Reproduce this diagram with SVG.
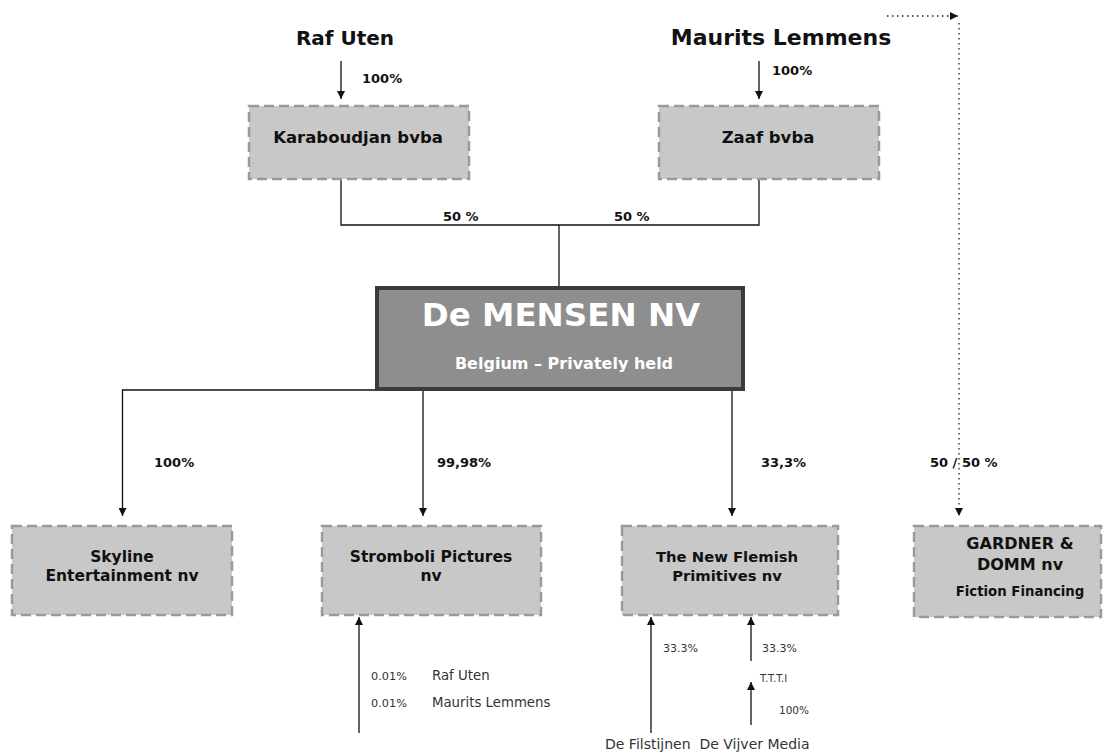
<svg xmlns="http://www.w3.org/2000/svg" width="1107" height="755" viewBox="0 0 1107 755">
<defs>
<style>
.t{font-family:"DejaVu Sans","Liberation Sans",sans-serif;fill:#111;text-anchor:middle}
.b{font-weight:bold}
.box{fill:#c8c8c8;stroke:#9a9a9a;stroke-width:2.5;stroke-dasharray:10 5}
.ln{fill:none;stroke:#111;stroke-width:1.3}
.dot{fill:none;stroke:#222;stroke-width:1.3;stroke-dasharray:1.5 3.5}
.pct{font-size:13px;font-weight:bold;text-anchor:start}
.sm{fill:#333;text-anchor:start}
.w{fill:#fff}
</style>
<marker id="arr" viewBox="0 0 10 10" refX="10" refY="5" markerWidth="8" markerHeight="8" markerUnits="userSpaceOnUse" orient="auto">
<path d="M0,0 L10,5 L0,10 z" fill="#111"/>
</marker>
</defs>
<rect width="1107" height="755" fill="#fff"/>

<g id="connectors">
<line class="ln" x1="341" y1="61" x2="341" y2="99" marker-end="url(#arr)"/>
<line class="ln" x1="759" y1="61" x2="759" y2="99" marker-end="url(#arr)"/>
<path class="ln" d="M341 179 V225 H759 V179"/>
<line class="ln" x1="559" y1="225" x2="559" y2="287"/>
<path class="ln" d="M376 390 H122.5 V516" marker-end="url(#arr)"/>
<line class="ln" x1="423" y1="390" x2="423" y2="516" marker-end="url(#arr)"/>
<line class="ln" x1="732" y1="390" x2="732" y2="516" marker-end="url(#arr)"/>
<line class="dot" x1="887" y1="16" x2="958" y2="16" marker-end="url(#arr)"/>
<line class="dot" x1="959" y1="23" x2="959" y2="516" marker-end="url(#arr)"/>
<line class="ln" x1="359" y1="733" x2="359" y2="617" marker-end="url(#arr)"/>
<line class="ln" x1="651" y1="733" x2="651" y2="617" marker-end="url(#arr)"/>
<line class="ln" x1="751" y1="661" x2="751" y2="617" marker-end="url(#arr)"/>
<line class="ln" x1="751" y1="725" x2="751" y2="682" marker-end="url(#arr)"/>
</g>

<g id="labels">
<text class="t pct" x="362" y="83">100%</text>
<text class="t pct" x="772" y="75">100%</text>
<text class="t pct" x="443" y="221">50 %</text>
<text class="t pct" x="614" y="221">50 %</text>
<text class="t pct" x="154" y="467">100%</text>
<text class="t pct" x="437" y="467">99,98%</text>
<text class="t pct" x="761" y="467">33,3%</text>
<text class="t pct" x="930" y="467">50 / 50 %</text>
<text class="t sm" x="371" y="680" font-size="11.3">0.01%</text>
<text class="t sm" x="432" y="680" font-size="13.3">Raf Uten</text>
<text class="t sm" x="371" y="707" font-size="11.3">0.01%</text>
<text class="t sm" x="432" y="707" font-size="13.3">Maurits Lemmens</text>
<text class="t sm" x="663" y="652" font-size="11">33.3%</text>
<text class="t sm" x="762" y="652" font-size="11">33.3%</text>
<text class="t sm" x="760" y="682" font-size="10">T.T.T.I</text>
<text class="t sm" x="779" y="714" font-size="10.5">100%</text>
<text class="t sm" x="605" y="749" font-size="14" xml:space="preserve">De Filstijnen  De Vijver Media</text>
</g>

<g id="raf-uten">
<text class="t b" x="345" y="45" font-size="20">Raf Uten</text>
</g>
<g id="maurits-lemmens">
<text class="t b" x="781" y="45" font-size="22">Maurits Lemmens</text>
</g>

<g id="karaboudjan">
<rect class="box" x="249" y="106" width="220" height="73"/>
<text class="t b" x="358" y="143" font-size="16.5">Karaboudjan bvba</text>
</g>
<g id="zaaf">
<rect class="box" x="659" y="106" width="220" height="73"/>
<text class="t b" x="768" y="143" font-size="16.5">Zaaf bvba</text>
</g>

<g id="de-mensen">
<rect x="377" y="288" width="366" height="101" fill="#8e8e8e" stroke="#3a3a3a" stroke-width="4"/>
<text class="t b w" x="561" y="326" font-size="32.5">De MENSEN NV</text>
<text class="t b w" x="564" y="369" font-size="16">Belgium – Privately held</text>
</g>

<g id="skyline">
<rect class="box" x="12" y="526" width="220" height="89"/>
<text class="t b" x="122" y="562" font-size="15.5">Skyline</text>
<text class="t b" x="122" y="581" font-size="15.5">Entertainment nv</text>
</g>
<g id="stromboli">
<rect class="box" x="322" y="526" width="219" height="89"/>
<text class="t b" x="431" y="562" font-size="15.5">Stromboli Pictures</text>
<text class="t b" x="431" y="581" font-size="15.5">nv</text>
</g>
<g id="new-flemish">
<rect class="box" x="622" y="526" width="216" height="89"/>
<text class="t b" x="727" y="562" font-size="14.8">The New Flemish</text>
<text class="t b" x="727" y="581" font-size="14.8">Primitives nv</text>
</g>
<g id="gardner">
<rect class="box" x="914" y="526" width="187" height="91"/>
<text class="t b" x="1020" y="549" font-size="16">GARDNER &amp;</text>
<text class="t b" x="1020" y="570" font-size="16">DOMM nv</text>
<text class="t b" x="1020" y="596" font-size="13.3">Fiction Financing</text>
</g>
</svg>
